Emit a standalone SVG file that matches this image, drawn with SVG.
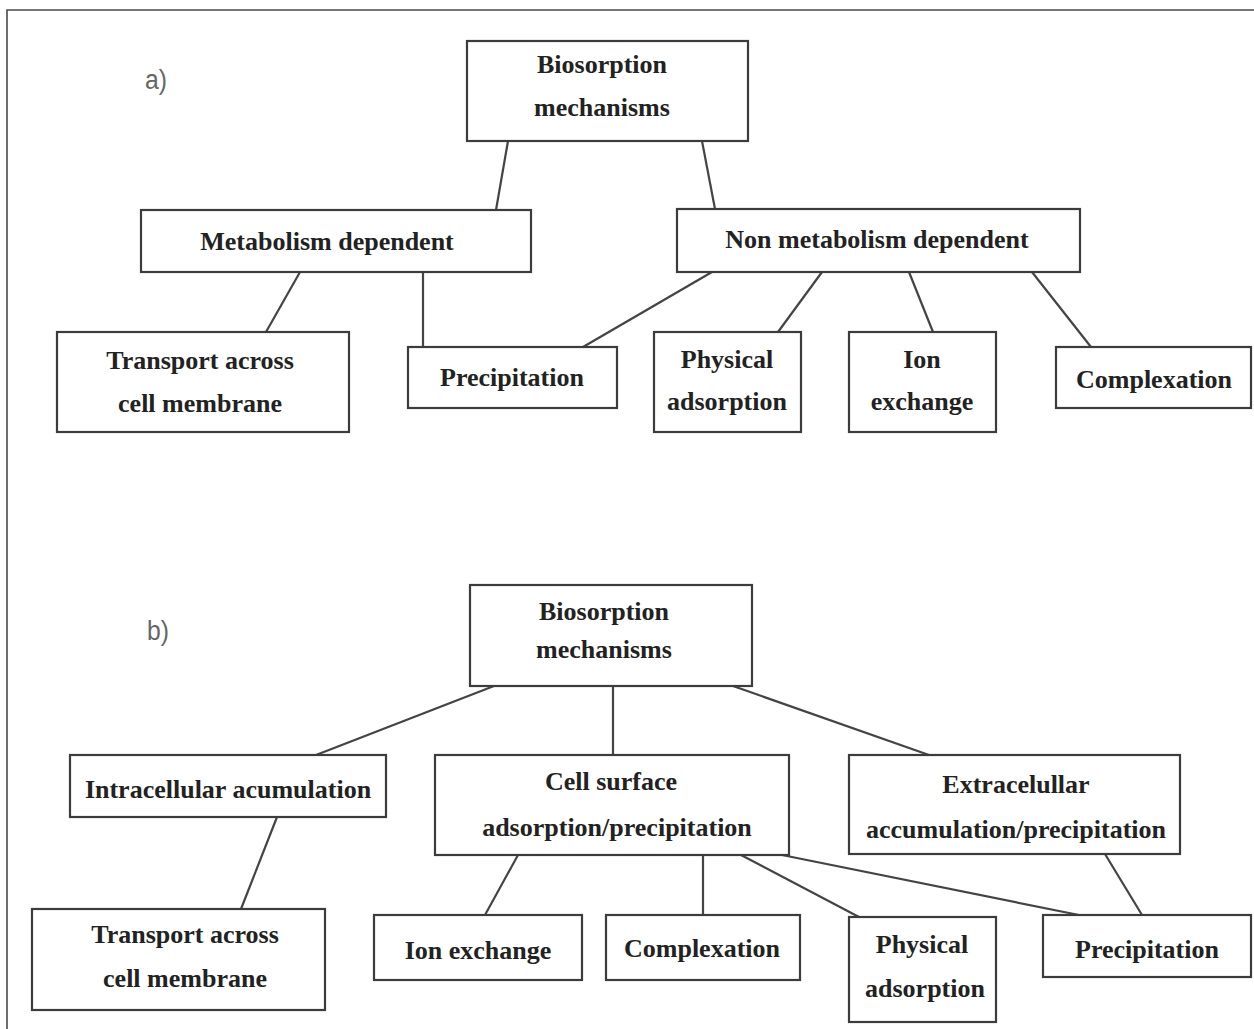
<svg xmlns="http://www.w3.org/2000/svg" width="1254" height="1029" viewBox="0 0 1254 1029">
<style>
.box{fill:#fff;stroke:#3c3c3c;stroke-width:2.2}
.t{font-family:"Liberation Serif","Times New Roman",serif;font-weight:bold;font-size:26px;fill:#222;text-anchor:middle}
.lbl{font-family:"Liberation Sans",Arial,sans-serif;font-size:27px;fill:#666}
.c line{stroke:#444;stroke-width:2.2}
.frame{stroke:#4a4a4a;stroke-width:1.6;fill:none}
</style>
<rect width="1254" height="1029" fill="#fff"/>
<path class="frame" d="M7,1029 V10 H1254"/>
<text class="lbl" x="145" y="89" textLength="22" lengthAdjust="spacingAndGlyphs">a)</text>
<text class="lbl" x="147" y="640" textLength="22" lengthAdjust="spacingAndGlyphs">b)</text>
<g class="c" id="connectors">
<line x1="508" y1="141" x2="496" y2="210"/>
<line x1="702" y1="141" x2="715" y2="209"/>
<line x1="300" y1="272" x2="266" y2="332"/>
<line x1="423" y1="272" x2="423" y2="347"/>
<line x1="712" y1="272" x2="583" y2="347"/>
<line x1="822" y1="272" x2="778" y2="332"/>
<line x1="909" y1="272" x2="933" y2="332"/>
<line x1="1032" y1="272" x2="1091" y2="347"/>
<line x1="494" y1="686" x2="316" y2="755"/>
<line x1="613" y1="686" x2="613" y2="755"/>
<line x1="733" y1="686" x2="929" y2="755"/>
<line x1="277" y1="817" x2="241" y2="909"/>
<line x1="518" y1="855" x2="485" y2="915"/>
<line x1="703" y1="855" x2="703" y2="915"/>
<line x1="741" y1="855" x2="859" y2="917"/>
<line x1="782" y1="855" x2="1079" y2="915"/>
<line x1="1105" y1="854" x2="1142" y2="915"/>
</g>
<g id="a_bio"><rect class="box" x="467" y="41" width="281" height="100"/><text class="t" x="602" y="73">Biosorption</text><text class="t" x="602" y="116">mechanisms</text></g>
<g id="a_metab"><rect class="box" x="141" y="210" width="390" height="62"/><text class="t" x="327" y="250">Metabolism dependent</text></g>
<g id="a_nonmetab"><rect class="box" x="677" y="209" width="403" height="63"/><text class="t" x="877" y="248">Non metabolism dependent</text></g>
<g id="a_transport"><rect class="box" x="57" y="332" width="292" height="100"/><text class="t" x="200" y="369">Transport across</text><text class="t" x="200" y="412">cell membrane</text></g>
<g id="a_precip"><rect class="box" x="408" y="347" width="209" height="61"/><text class="t" x="512" y="386">Precipitation</text></g>
<g id="a_phys"><rect class="box" x="654" y="332" width="147" height="100"/><text class="t" x="727" y="368">Physical</text><text class="t" x="727" y="410">adsorption</text></g>
<g id="a_ion"><rect class="box" x="849" y="332" width="147" height="100"/><text class="t" x="922" y="368">Ion</text><text class="t" x="922" y="410">exchange</text></g>
<g id="a_complex"><rect class="box" x="1056" y="347" width="195" height="61"/><text class="t" x="1154" y="388">Complexation</text></g>
<g id="b_bio"><rect class="box" x="470" y="585" width="282" height="101"/><text class="t" x="604" y="620">Biosorption</text><text class="t" x="604" y="658">mechanisms</text></g>
<g id="b_intra"><rect class="box" x="70" y="755" width="316" height="62"/><text class="t" x="228" y="798">Intracellular acumulation</text></g>
<g id="b_cell"><rect class="box" x="435" y="755" width="354" height="100"/><text class="t" x="611" y="790">Cell surface</text><text class="t" x="617" y="836">adsorption/precipitation</text></g>
<g id="b_extra"><rect class="box" x="849" y="755" width="331" height="99"/><text class="t" x="1016" y="793">Extracelullar</text><text class="t" x="1016" y="838">accumulation/precipitation</text></g>
<g id="b_transport"><rect class="box" x="32" y="909" width="293" height="101"/><text class="t" x="185" y="943">Transport across</text><text class="t" x="185" y="987">cell membrane</text></g>
<g id="b_ion"><rect class="box" x="374" y="915" width="208" height="65"/><text class="t" x="478" y="959">Ion exchange</text></g>
<g id="b_complex"><rect class="box" x="606" y="915" width="194" height="65"/><text class="t" x="702" y="957">Complexation</text></g>
<g id="b_phys"><rect class="box" x="849" y="917" width="147" height="105"/><text class="t" x="922" y="953">Physical</text><text class="t" x="925" y="997">adsorption</text></g>
<g id="b_precip"><rect class="box" x="1043" y="915" width="208" height="62"/><text class="t" x="1147" y="958">Precipitation</text></g>
</svg>
